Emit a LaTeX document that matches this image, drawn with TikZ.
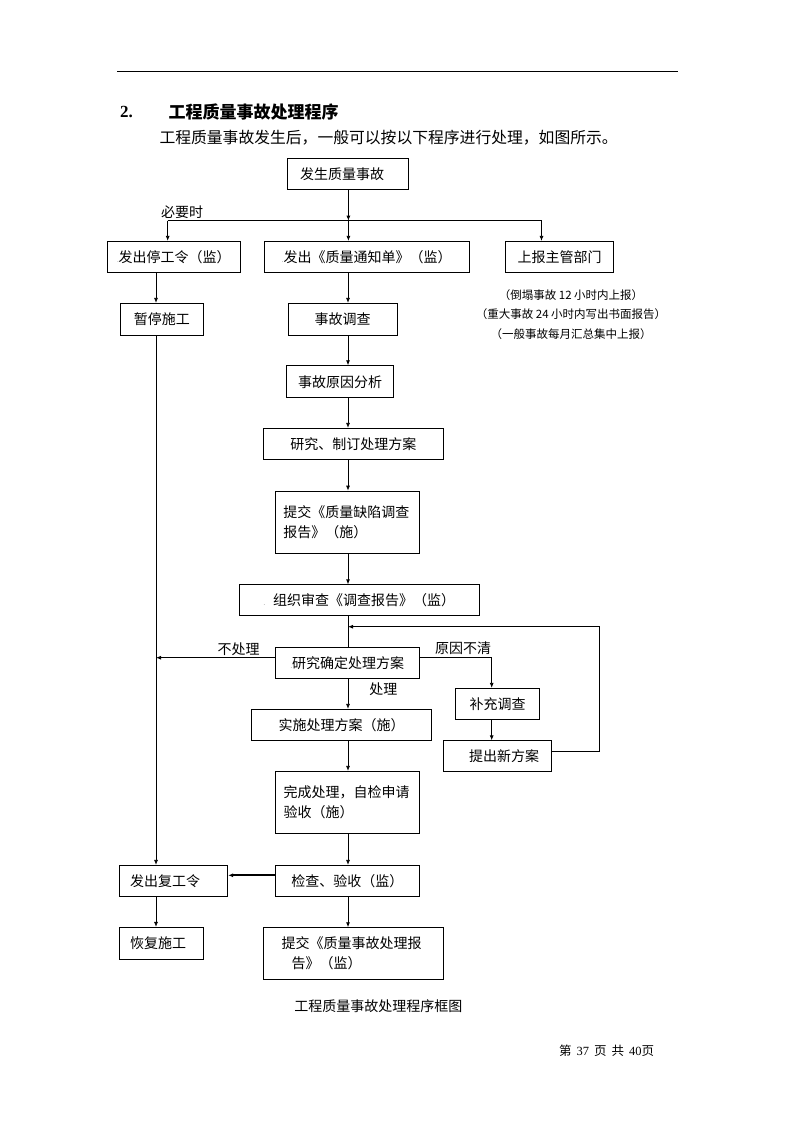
\documentclass[tikz,border=0pt]{standalone}
\usepackage{fontspec}
\setmainfont{Noto Sans CJK SC}
\newfontfamily\numfont{Liberation Serif}
\usetikzlibrary{arrows.meta}
\newcommand{\tinydot}{{\fontsize{5pt}{5pt}\selectfont .}}

\begin{document}
\begin{tikzpicture}
[every node/.style={inner sep=0pt},
 box/.style={draw, line width=0.8pt, font=\fontsize{14pt}{20pt}\selectfont},
 lbox/.style={box, align=left},
 arr/.style={line width=0.8pt, ->, >={Latex[length=5pt,width=4pt]}},
 lbl/.style={font=\fontsize{14pt}{14pt}\selectfont}]
\useasboundingbox (0pt,0pt) rectangle (794pt,-1123pt);
\draw [line width=0.8pt] (117pt,-71pt) -- (678pt,-71pt);
\node (no) [anchor=west, font=\numfont\bfseries\fontsize{17pt}{17pt}\selectfont] at (120pt,-111.7pt) {2.};
\node (tt) [anchor=west, font=\bfseries\fontsize{17pt}{17pt}\selectfont] at (168.3pt,-111.7pt) {工程质量事故处理程序};
\node (sub) [anchor=west, font=\fontsize{15.8pt}{15.8pt}\selectfont] at (159.3pt,-137.7pt) {工程质量事故发生后，一般可以按以下程序进行处理，如图所示。};
\node (fs) [lbox, text width=96.4pt, inner xsep=12.3pt, minimum height=31pt] at (348.2pt,-173.8pt) {发生质量事故};
\node (tg) [box, minimum width=132.7pt, minimum height=31pt] at (174pt,-256.8pt) {\tinydot 发出停工令（监）};
\node (tz) [box, minimum width=204.6pt, minimum height=31pt] at (366.9pt,-256.8pt) {\tinydot 发出《质量通知单》（监）};
\node (sb) [box, minimum width=108.4pt, minimum height=31pt] at (559.6pt,-256.8pt) {上报主管部门};
\node (zt) [box, minimum width=83.8pt, minimum height=32pt] at (161.9pt,-319.3pt) {暂停施工};
\node (dc) [box, minimum width=108.5pt, minimum height=32pt] at (342.7pt,-319.3pt) {事故调查};
\node (yy) [box, minimum width=106.7pt, minimum height=32pt] at (340pt,-381.7pt) {事故原因分析};
\node (yz) [box, minimum width=180pt, minimum height=31pt] at (353.3pt,-443.8pt) {研究、制订处理方案};
\node (tj) [lbox, text width=128pt, inner xsep=8pt, minimum height=62.3pt] at (347.3pt,-522.2pt) {提交《质量缺陷调查\\报告》（施）};
\node (zz) [box, minimum width=240pt, minimum height=30.3pt] at (359.3pt,-599.9pt) {\tinydot\hspace{8pt}组织审查《调查报告》（监）};
\node (yq) [box, minimum width=144pt, minimum height=30.6pt] at (347.3pt,-663pt) {\tinydot 研究确定处理方案};
\node (bc) [box, minimum width=83.6pt, minimum height=31pt] at (497.5pt,-703.8pt) {补充调查};
\node (tx) [box, minimum width=108.4pt, minimum height=30.3pt] at (497.5pt,-755.9pt) {\hspace*{13pt}提出新方案};
\node (ss) [box, minimum width=180pt, minimum height=31pt] at (341.7pt,-724.8pt) {实施处理方案（施）};
\node (wc) [lbox, text width=127.6pt, inner xsep=8pt, minimum height=62.4pt] at (347.5pt,-802.5pt) {完成处理，自检申请\\验收（施）};
\node (fg) [lbox, text width=87pt, inner xsep=10.7pt, minimum height=31pt] at (173.5pt,-880.8pt) {发出复工令};
\node (jc) [box, minimum width=144pt, minimum height=31pt] at (347.3pt,-880.8pt) {检查、验收（监）};
\node (hf) [lbox, text width=62.6pt, inner xsep=10.7pt, minimum height=31.7pt] at (161.3pt,-943.2pt) {恢复施工};
\node (tb) [lbox, text width=143.2pt, inner xsep=18.4pt, minimum height=51.3pt] at (353.3pt,-953.3pt) {提交《质量事故处理报\\\hspace*{10pt}告》（监）};
\node (by) [lbl] at (182pt,-212pt) {必要时};
\node (bcl) [lbl] at (238.5pt,-649pt) {不处理};
\node (yb) [lbl] at (463pt,-648pt) {原因不清};
\node (cl) [lbl] at (383.3pt,-689pt) {处理};
\node (note) [align=center, font=\fontsize{11.5pt}{19.2pt}\selectfont] at (571pt,-314.5pt) {（倒塌事故 12 小时内上报）\\（重大事故 24 小时内写出书面报告）\\（一般事故每月汇总集中上报）};
\node (cap) [lbl] at (378.3pt,-1005.7pt) {工程质量事故处理程序框图};
\node (pg) [font=\fontsize{12.5pt}{12.5pt}\selectfont] at (606.5pt,-1050.7pt) {第\hspace{5pt}{\numfont 37}\hspace{5pt}页\hspace{5pt}共\hspace{5pt}{\numfont 40}页};
\coordinate (jl) at (167.7pt,-220.7pt);
\coordinate (jn) at (348.4pt,-220.7pt);
\coordinate (jr) at (541.5pt,-220.7pt);
\coordinate (sp) at (348pt,0pt);
\coordinate (lf) at (156pt,0pt);
\coordinate (nc) at (156pt,-657.7pt);
\coordinate (yc) at (491.7pt,-657pt);
\coordinate (l1) at (599.3pt,-751.7pt);
\coordinate (l2) at (599.3pt,-626.7pt);
\coordinate (l3) at (348pt,-626.7pt);
\coordinate (fc) at (0pt,-875.3pt);
\draw [arr] (fs.south -| jn) to (jn);
\draw [line width=0.8pt] (jl) to (jr);
\draw [arr] (jl) to (jl |- tg.north);
\draw [arr] (jn) to (jn |- tz.north);
\draw [arr] (jr) to (jr |- sb.north);
\draw [arr] (tg.south -| lf) to (zt.north -| lf);
\draw [arr] (zt.south -| lf) to (fg.north -| lf);
\draw [arr] (fg.south -| lf) to (hf.north -| lf);
\draw [arr] (tz.south -| sp) to (dc.north -| sp);
\draw [arr] (dc.south -| sp) to (yy.north -| sp);
\draw [arr] (yy.south -| sp) to (yz.north -| sp);
\draw [arr] (yz.south -| sp) to (tj.north -| sp);
\draw [arr] (tj.south -| sp) to (zz.north -| sp);
\draw [line width=0.8pt] (zz.south -| sp) to (yq.north -| sp);
\draw [arr] (yq.south -| sp) to (ss.north -| sp);
\draw [arr] (ss.south -| sp) to (wc.north -| sp);
\draw [arr] (wc.south -| sp) to (jc.north -| sp);
\draw [arr] (jc.south -| sp) to (tb.north -| sp);
\draw [arr] (yq.west |- nc) to (nc);
\draw [arr] (yq.east |- yc) -- (yc) -- (yc |- bc.north);
\draw [arr] (yc |- bc.south) to (yc |- tx.north);
\draw [arr] (tx.east |- l1) -- (l1) -- (l2) -- (l3);
\draw [arr, line width=2pt] (jc.west |- fc) to (fg.east |- fc);
\end{tikzpicture}
\end{document}
